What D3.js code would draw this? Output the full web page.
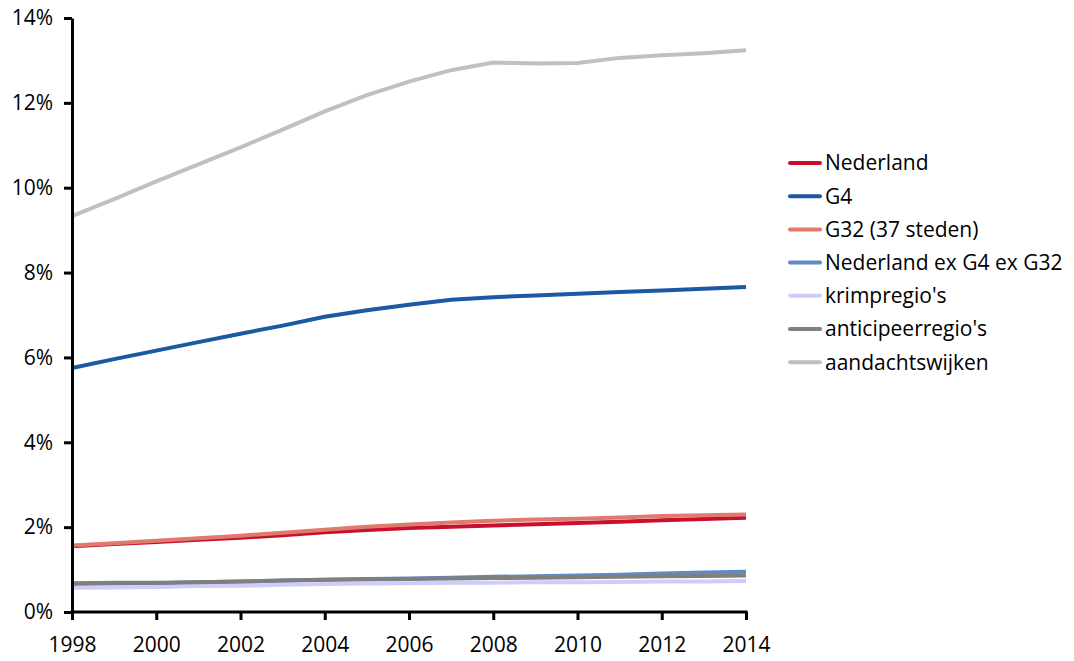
<!DOCTYPE html>
<html>
<head>
<meta charset="utf-8">
<script src="https://cdn.jsdelivr.net/npm/d3@7"></script>
<style>
  body { margin: 0; background: #fff; }
  svg text { font-family: "Open Sans", "Noto Sans", sans-serif; fill: #000; }
</style>
</head>
<body>
<svg id="chart" width="1074" height="661"></svg>
<script>
// data (percentages)
const years = d3.range(1998, 2015);
const seriesNames = ["Nederland", "G4", "G32 (37 steden)", "Nederland ex G4 ex G32",
  "krimpregio's", "anticipeerregio's", "aandachtswijken"];
const seriesColors = ["#c8102e", "#1c58a3", "#e07a6d", "#5f8ac4", "#cdcdfb", "#7f7f7f", "#c0c0c0"];

const nederland = [1.55, 1.60, 1.65, 1.70, 1.75, 1.81, 1.88, 1.93, 1.98, 2.01, 2.04, 2.07, 2.10, 2.13, 2.16, 2.19, 2.22];
const g4 = [5.75, 5.96, 6.16, 6.36, 6.56, 6.75, 6.96, 7.11, 7.24, 7.36, 7.42, 7.46, 7.50, 7.54, 7.58, 7.62, 7.66];
const g32 = [1.57, 1.62, 1.68, 1.74, 1.80, 1.87, 1.94, 2.01, 2.06, 2.11, 2.15, 2.18, 2.20, 2.23, 2.26, 2.28, 2.30];
const nlExG4G32 = [0.66, 0.67, 0.68, 0.70, 0.72, 0.74, 0.76, 0.78, 0.79, 0.81, 0.83, 0.84, 0.86, 0.88, 0.91, 0.93, 0.95];
const krimp = [0.57, 0.58, 0.59, 0.61, 0.62, 0.64, 0.66, 0.67, 0.68, 0.69, 0.69, 0.70, 0.70, 0.71, 0.72, 0.72, 0.73];
const anticipeer = [0.68, 0.69, 0.69, 0.70, 0.72, 0.74, 0.76, 0.77, 0.78, 0.79, 0.80, 0.81, 0.82, 0.83, 0.84, 0.85, 0.86];
const aandacht = [9.33, 9.73, 10.15, 10.55, 10.95, 11.37, 11.80, 12.18, 12.50, 12.77, 12.95, 12.93, 12.94, 13.06, 13.12, 13.17, 13.24];

const seriesValues = [nederland, g4, g32, nlExG4G32, krimp, anticipeer, aandacht];

const yTicks = [0, 2, 4, 6, 8, 10, 12, 14];
const xTicks = [1998, 2000, 2002, 2004, 2006, 2008, 2010, 2012, 2014];

const margin = {top: 18, left: 72};
const width = 674, height = 594;

const svg = d3.select("#chart");
const g = svg.append("g").attr("transform", `translate(${margin.left},${margin.top})`);

const x = d3.scaleLinear().domain([1998, 2014]).range([0, width]);
const y = d3.scaleLinear().domain([0, 14]).range([height, 0]);

// lines
const line = d3.line()
  .x((d, i) => x(years[i]))
  .y(d => y(d));

seriesValues.forEach((vals, i) => {
  g.append("path")
    .attr("d", line(vals))
    .attr("fill", "none")
    .attr("stroke", seriesColors[i])
    .attr("stroke-width", 4);
});

// axes
const yAxis = d3.axisLeft(y).tickValues(yTicks).tickFormat(d => d + "%").tickSize(8).tickSizeOuter(0).tickPadding(11);
const xAxis = d3.axisBottom(x).tickValues(xTicks).tickFormat(d3.format("d")).tickSize(8).tickSizeOuter(0).tickPadding(17);

const ya = g.append("g").call(yAxis);
const xa = g.append("g").attr("transform", `translate(0,${height})`).call(xAxis);

[ya, xa].forEach(a => {
  a.select(".domain").attr("stroke", "#000").attr("stroke-width", 3);
  a.selectAll(".tick line").attr("stroke", "#000").attr("stroke-width", 3);
  a.selectAll(".tick text").style("font-size", "21px");
});
xa.select(".domain").attr("d", `M-1.5,0H${width + 1.5}`);
ya.selectAll(".tick line").attr("x2", -8);
xa.selectAll(".tick line").attr("y1", 0).attr("y2", 8);

// legend
const legend = svg.append("g").attr("transform", "translate(790,163)");
seriesNames.forEach((name, i) => {
  const row = legend.append("g").attr("transform", `translate(0,${i * 33.2})`);
  row.append("line")
    .attr("x1", 0).attr("x2", 30)
    .attr("stroke", seriesColors[i])
    .attr("stroke-width", 4)
    .attr("stroke-linecap", "round");
  row.append("text")
    .attr("x", 35).attr("dy", "0.35em")
    .style("font-size", "21px")
    .text(name);
});
</script>
</body>
</html>
